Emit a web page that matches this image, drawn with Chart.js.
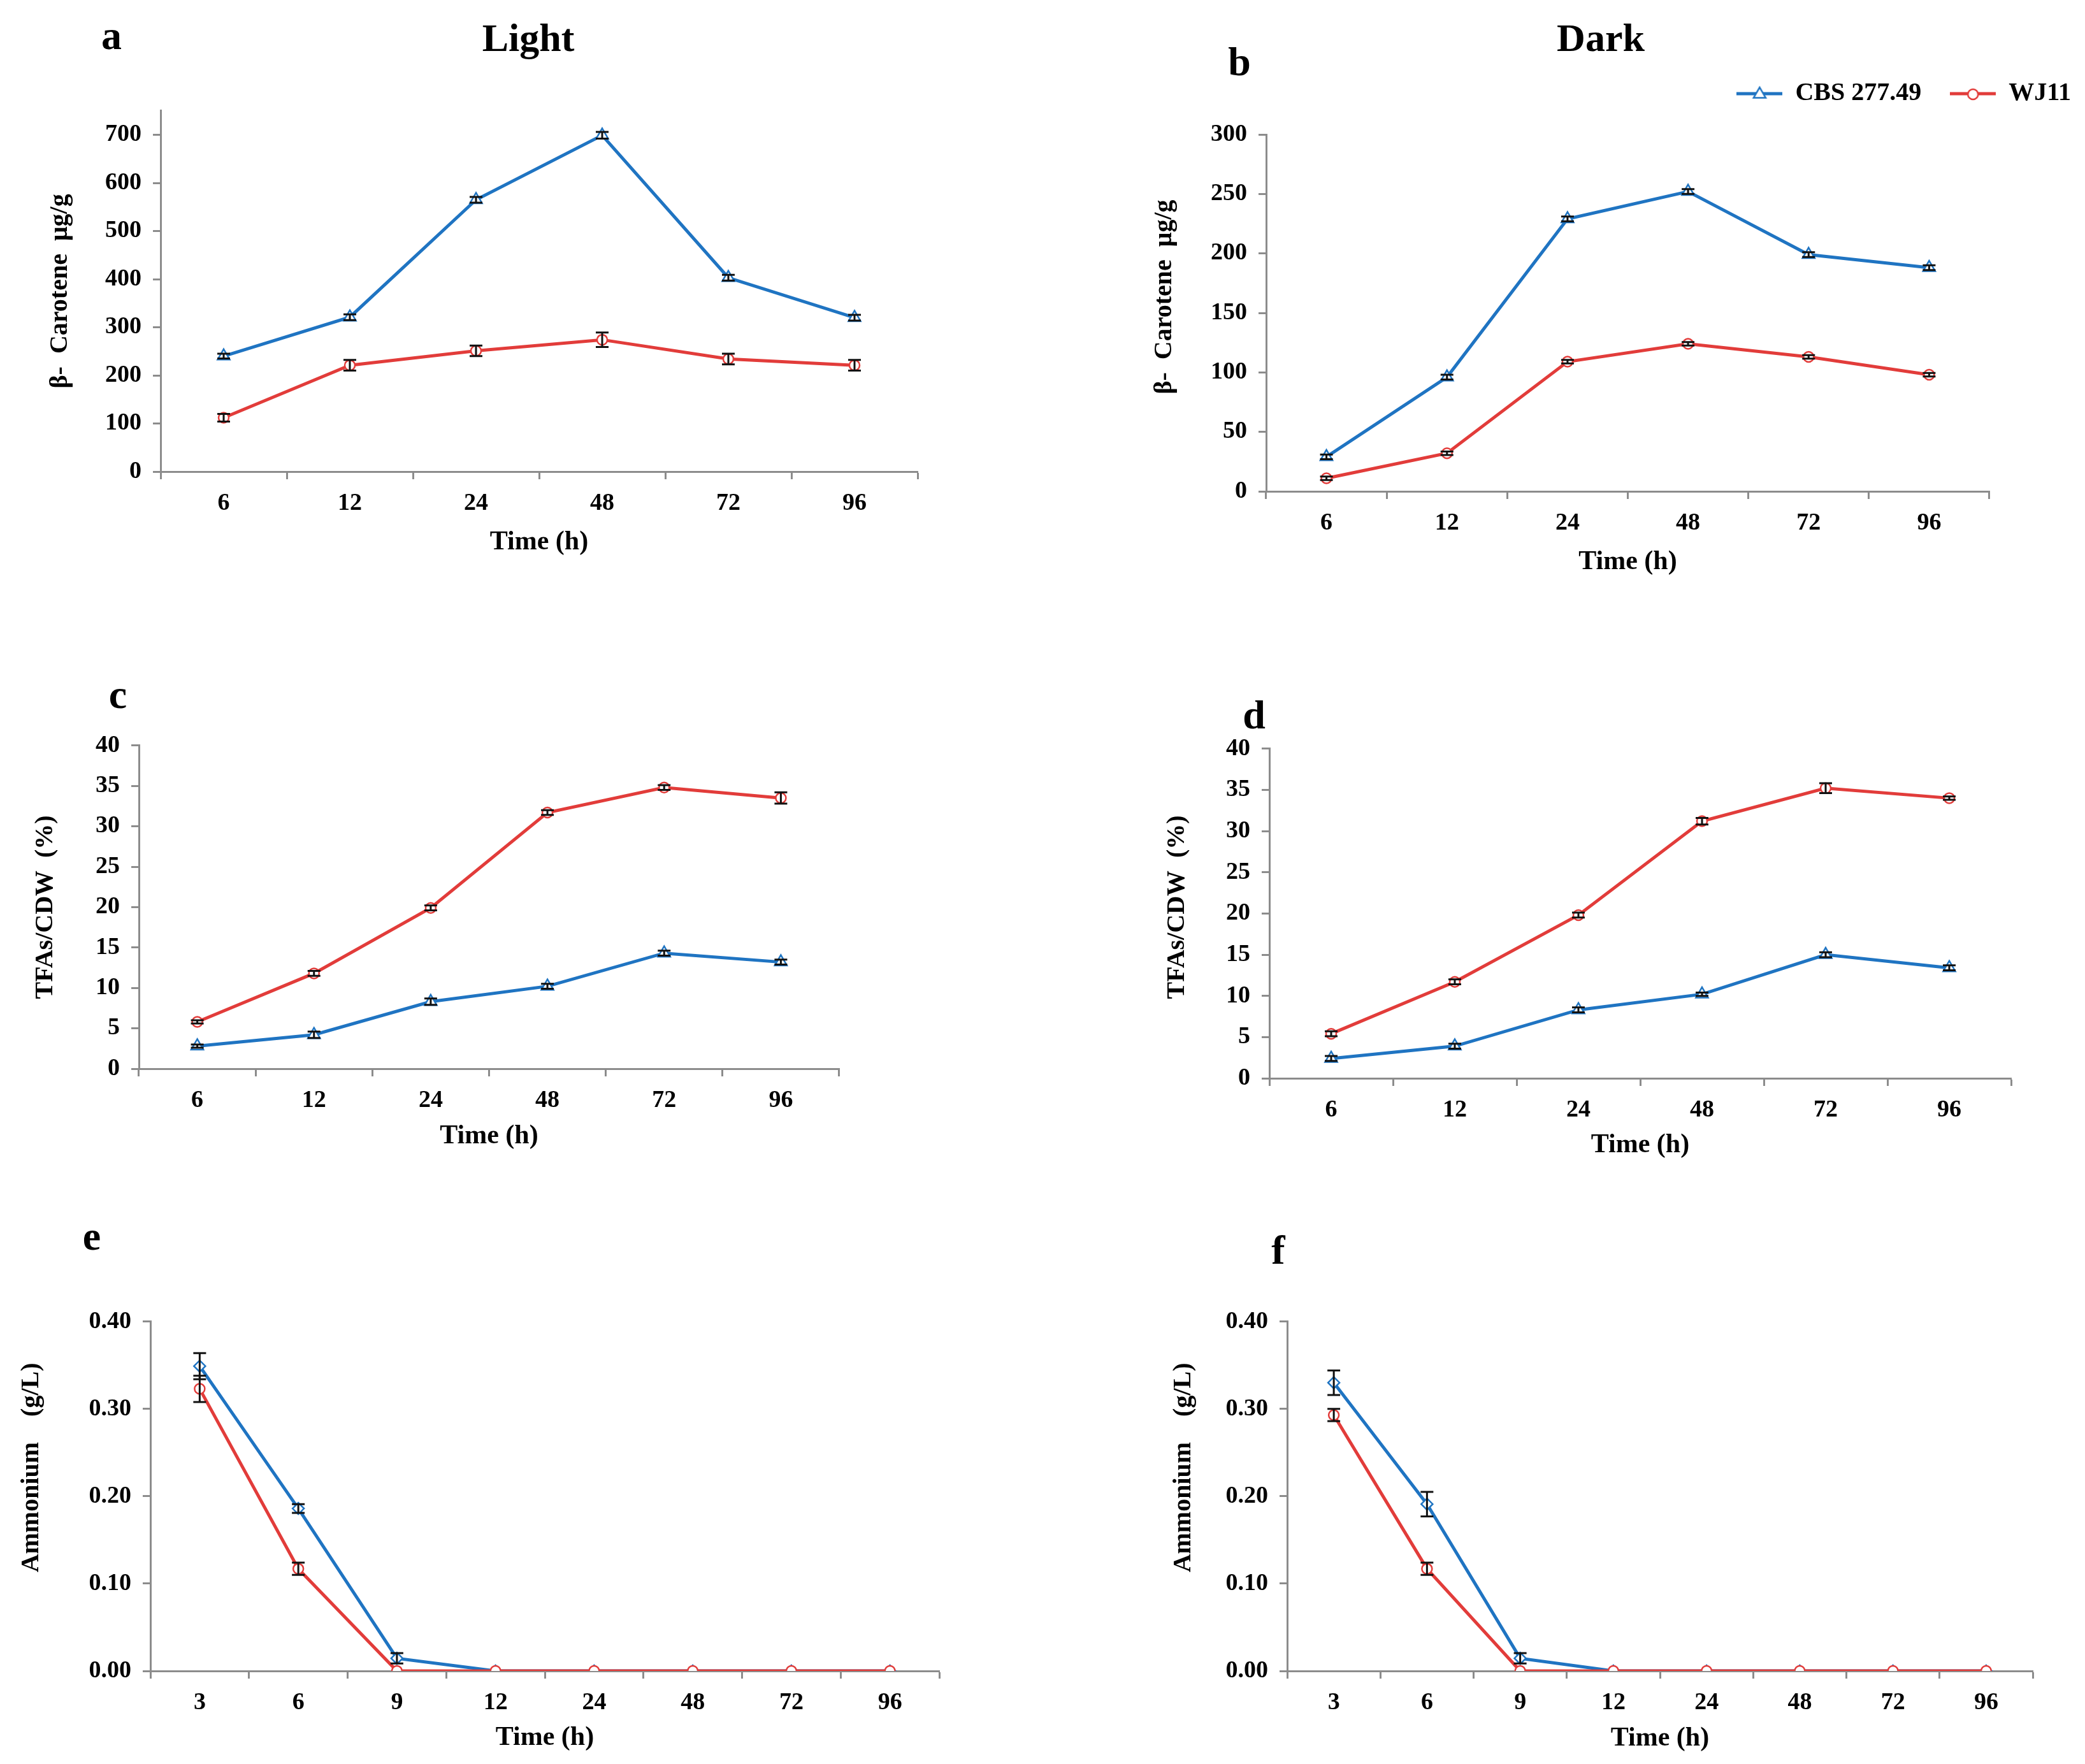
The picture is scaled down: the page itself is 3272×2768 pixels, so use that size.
<!DOCTYPE html>
<html>
<head>
<meta charset="utf-8">
<script src="https://cdn.jsdelivr.net/npm/chart.js@4.4.0/dist/chart.umd.min.js"></script>
<style>
  html, body { margin: 0; padding: 0; background: #fff; width: 3272px; height: 2768px; overflow: hidden; position: relative; }
  canvas { position: absolute; }
  svg { position: absolute; left: 0; top: 0; pointer-events: none; }
</style>
</head>
<body>
<canvas id="pa"></canvas>
<canvas id="pb"></canvas>
<canvas id="pc"></canvas>
<canvas id="pd"></canvas>
<canvas id="pe"></canvas>
<canvas id="pf"></canvas>

<svg width="3272" height="2768" font-family="Liberation Serif, Times New Roman, serif" font-weight="bold" text-anchor="middle">
  <text x="175" y="77" font-size="64">a</text>
  <text x="829" y="80" font-size="62">Light</text>
  <text x="1945" y="118" font-size="64">b</text>
  <text x="2512" y="80" font-size="62">Dark</text>
  <text x="185" y="1111" font-size="64">c</text>
  <text x="1968" y="1143" font-size="64">d</text>
  <text x="144" y="1961" font-size="64">e</text>
  <text x="2006" y="1983" font-size="64">f</text>
</svg>

<script>
// sampling times (h)
const hoursMain = ['6', '12', '24', '48', '72', '96'];
const hoursAmm = ['3', '6', '9', '12', '24', '48', '72', '96'];

// a: beta-carotene, light
const aCBS = [240, 321, 565, 699, 403, 320];
const aCBSErr = [5, 6, 6, 7, 6, 6];
const aWJ = [112, 221, 251, 274, 234, 221];
const aWJErr = [8, 11, 11, 15, 11, 11];

// b: beta-carotene, dark
const bCBS = [29, 96, 229, 252, 199, 188];
const bCBSErr = [2, 2, 2, 2, 2, 2];
const bWJ = [11, 32, 109, 124, 113, 98];
const bWJErr = [1.5, 1.5, 1.5, 1.5, 1.5, 1.5];

// c: TFAs/CDW, light
const cCBS = [2.8, 4.2, 8.3, 10.2, 14.3, 13.2];
const cCBSErr = [0.2, 0.4, 0.4, 0.3, 0.3, 0.3];
const cWJ = [5.8, 11.8, 19.9, 31.7, 34.8, 33.5];
const cWJErr = [0.2, 0.3, 0.3, 0.3, 0.3, 0.7];

// d: TFAs/CDW, dark
const dCBS = [2.4, 3.9, 8.3, 10.2, 15.0, 13.4];
const dCBSErr = [0.3, 0.3, 0.3, 0.2, 0.3, 0.3];
const dWJ = [5.4, 11.7, 19.8, 31.2, 35.2, 34.0];
const dWJErr = [0.3, 0.3, 0.3, 0.4, 0.6, 0.2];

// e: ammonium, light
const eCBS = [0.349, 0.186, 0.0145, 0, 0, 0, 0, 0];
const eCBSErr = [0.015, 0.005, 0.006, 0, 0, 0, 0, 0];
const eWJ = [0.323, 0.117, 0, 0, 0, 0, 0, 0];
const eWJErr = [0.015, 0.007, 0, 0, 0, 0, 0, 0];

// f: ammonium, dark
const fCBS = [0.330, 0.191, 0.0145, 0, 0, 0, 0, 0];
const fCBSErr = [0.014, 0.014, 0.006, 0, 0, 0, 0, 0];
const fWJ = [0.293, 0.117, 0, 0, 0, 0, 0, 0];
const fWJErr = [0.007, 0.007, 0, 0, 0, 0, 0, 0];

const BLUE = '#1f74c2';
const RED = '#e23c3a';
const AXIS = '#8c8c8c';
const FONT = 'Liberation Serif';

// black error bars drawn over the points
const errorBars = {
  id: 'errorBars',
  afterDatasetsDraw(chart) {
    const ctx = chart.ctx;
    const y = chart.scales.y;
    chart.data.datasets.forEach((ds, i) => {
      if (!ds.errors) return;
      const meta = chart.getDatasetMeta(i);
      meta.data.forEach((pt, j) => {
        const e = ds.errors[j];
        if (!e) return;
        const top = y.getPixelForValue(ds.data[j] + e);
        const bot = y.getPixelForValue(ds.data[j] - e);
        ctx.save();
        ctx.strokeStyle = '#111';
        ctx.lineWidth = 3;
        ctx.beginPath();
        ctx.moveTo(pt.x, top); ctx.lineTo(pt.x, bot);
        ctx.moveTo(pt.x - 10, top); ctx.lineTo(pt.x + 10, top);
        ctx.moveTo(pt.x - 10, bot); ctx.lineTo(pt.x + 10, bot);
        ctx.stroke();
        ctx.restore();
      });
    });
  }
};

function series(label, data, errors, color, style, order) {
  return {
    label, data, errors, order,
    xAxisID: 'x', yAxisID: 'y',
    borderColor: color, backgroundColor: color, borderWidth: 5,
    pointStyle: style,
    pointRadius: style === 'triangle' ? 11 : (style === 'rectRot' ? 9 : 8),
    pointBorderWidth: 2.5, pointBorderColor: color, pointBackgroundColor: '#fff',
    tension: 0
  };
}

const tickGrid = { display: true, offset: true, drawOnChartArea: false, drawTicks: true, tickLength: 12, tickWidth: 3, tickColor: AXIS };

function xAxis(h) {
  return {
    type: 'category', offset: true,
    grid: tickGrid,
    border: { display: true, color: AXIS, width: 3 },
    ticks: { color: '#000', font: { family: FONT, weight: 'bold', size: 38 }, padding: 15, maxRotation: 0, autoSkip: false },
    title: { display: true, text: 'Time (h)', color: '#000', font: { family: FONT, weight: 'bold', size: 42 }, padding: 0 },
    afterFit(s) { s.height = h; }
  };
}

function yAxis(min, max, step, title, w, fmt, bounds) {
  return {
    type: 'linear', min, max,
    grid: Object.assign({}, tickGrid, { offset: false }),
    border: { display: true, color: AXIS, width: 3 },
    ticks: { stepSize: step, includeBounds: bounds !== false, color: '#000',
      font: { family: FONT, weight: 'bold', size: 38 }, padding: 18,
      callback: fmt || (v => v) },
    title: { display: true, text: title, color: '#000', font: { family: FONT, weight: 'bold', size: 40 }, padding: 0 },
    afterFit(s) { s.width = w; }
  };
}

function place(id, left, top, right, bottom) {
  const c = document.getElementById(id);
  c.width = right - left;
  c.height = bottom - top;
  c.style.left = left + 'px';
  c.style.top = top + 'px';
  return c;
}

function panel(id, box, labels, datasets, y) {
  const padTop = 40, padRight = 20;
  const c = place(id, box.L - box.yW, box.T - padTop, box.R + padRight, box.B + box.xH);
  new Chart(c, {
    type: 'line',
    data: { labels, datasets },
    options: {
      responsive: false, animation: false,
      layout: { padding: { top: padTop, right: padRight, left: 0, bottom: 0 } },
      plugins: { legend: { display: false }, tooltip: { enabled: false } },
      scales: { x: xAxis(box.xH), y: y }
    },
    plugins: [errorBars]
  });
}

function legendIcon(color, style, radius) {
  const c = document.createElement('canvas');
  c.width = 72; c.height = 30;
  const g = c.getContext('2d');
  g.strokeStyle = color; g.lineWidth = 5;
  g.beginPath(); g.moveTo(0, 15); g.lineTo(72, 15); g.stroke();
  g.lineWidth = 2.5; g.fillStyle = '#fff';
  Chart.helpers.drawPoint(g, { pointStyle: style, radius, borderWidth: 2.5 }, 36, 16);
  return c;
}

const carTitle = 'β-  Carotene  μg/g';
const tfaTitle = 'TFAs/CDW  (%)';
const ammTitle = '         Ammonium    (g/L)';

// a
panel('pa', { L: 252, R: 1440, T: 173, B: 740, yW: 181, xH: 136 }, hoursMain, [
  series('CBS 277.49', aCBS, aCBSErr, BLUE, 'triangle', 1),
  series('WJ11', aWJ, aWJErr, RED, 'circle', 0)
], yAxis(0, 750, 100, carTitle, 181, null, false));

// b (carries the legend)
(function () {
  const L = 1987, R = 3122, T = 211, B = 771, yW = 183, xH = 136;
  const c = place('pb', L - yW, 82, 3295, B + xH);
  new Chart(c, {
    type: 'line',
    data: { labels: hoursMain, datasets: [
      series('CBS 277.49', bCBS, bCBSErr, BLUE, 'triangle', 1),
      series('WJ11', bWJ, bWJErr, RED, 'circle', 0)
    ] },
    options: {
      responsive: false, animation: false,
      layout: { padding: 0 },
      plugins: {
        tooltip: { enabled: false },
        legend: {
          display: true, position: 'top', align: 'end',
          labels: {
            usePointStyle: true, pointStyleWidth: 72, padding: 45, color: '#000',
            font: { family: FONT, weight: 'bold', size: 40 },
            generateLabels: () => [
              { text: 'CBS 277.49', pointStyle: legendIcon(BLUE, 'triangle', 11), fillStyle: BLUE, strokeStyle: BLUE, lineWidth: 0, hidden: false, datasetIndex: 0 },
              { text: 'WJ11', pointStyle: legendIcon(RED, 'circle', 8), fillStyle: RED, strokeStyle: RED, lineWidth: 0, hidden: false, datasetIndex: 1 }
            ]
          }
        }
      },
      scales: {
        x: xAxis(xH),
        y: yAxis(0, 300, 50, '     ' + carTitle, yW),
        xTop: { type: 'linear', position: 'top', display: true, ticks: { display: false }, grid: { display: false }, border: { display: false }, afterFit(s) { s.height = T - 177; } },
        yRight: { type: 'linear', position: 'right', display: true, ticks: { display: false }, grid: { display: false }, border: { display: false }, afterFit(s) { s.width = 3295 - R; } }
      }
    },
    plugins: [errorBars]
  });
})();

// c
panel('pc', { L: 218, R: 1317, T: 1169, B: 1677, yW: 170, xH: 131 }, hoursMain, [
  series('CBS 277.49', cCBS, cCBSErr, BLUE, 'triangle', 1),
  series('WJ11', cWJ, cWJErr, RED, 'circle', 0)
], yAxis(0, 40, 5, tfaTitle, 170));

// d
panel('pd', { L: 1992, R: 3156, T: 1174, B: 1692, yW: 168, xH: 130 }, hoursMain, [
  series('CBS 277.49', dCBS, dCBSErr, BLUE, 'triangle', 1),
  series('WJ11', dWJ, dWJErr, RED, 'circle', 0)
], yAxis(0, 40, 5, '  ' + tfaTitle, 168));

// e
panel('pe', { L: 236, R: 1474, T: 2073, B: 2622, yW: 210, xH: 130 }, hoursAmm, [
  series('CBS 277.49', eCBS, eCBSErr, BLUE, 'rectRot', 1),
  series('WJ11', eWJ, eWJErr, RED, 'circle', 0)
], yAxis(0, 0.4, 0.1, ammTitle, 210, v => v.toFixed(2)));

// f
panel('pf', { L: 2020, R: 3190, T: 2073, B: 2622, yW: 186, xH: 131 }, hoursAmm, [
  series('CBS 277.49', fCBS, fCBSErr, BLUE, 'rectRot', 1),
  series('WJ11', fWJ, fWJErr, RED, 'circle', 0)
], yAxis(0, 0.4, 0.1, ammTitle, 186, v => v.toFixed(2)));
</script>
</body>
</html>
